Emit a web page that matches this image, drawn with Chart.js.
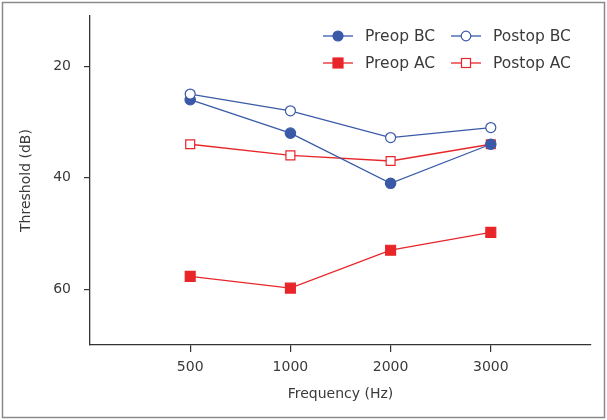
<!DOCTYPE html>
<html>
<head>
<meta charset="utf-8">
<script src="https://cdn.jsdelivr.net/npm/chart.js@4/dist/chart.umd.min.js"></script>
<style>
  html, body { margin: 0; padding: 0; background: #fff; }
  #wrap { width: 607px; height: 420px; position: relative; }
</style>
</head>
<body>
<div id="wrap"><canvas id="c" width="607" height="420"></canvas></div>
<script>
const freqLabels = ['500', '1000', '2000', '3000'];
const preopBC  = [26, 32, 41, 34];
const postopBC = [25, 28, 32.8, 31];
const preopAC  = [57.7, 59.8, 53, 49.8];
const postopAC = [34, 36, 37, 34];
const yTicks = [20, 40, 60];

const BLUE = '#3a5aa8';
const RED = '#e8262a';
const TXT = '#3a3a3a';
const FONT = "'DejaVu Sans', sans-serif";

function pts(arr) { return arr.map((v, i) => ({ x: i, y: v })); }

const legendItems = [
  { label: 'Preop BC', color: BLUE, style: 'circle', fill: true, x: 323, y: 36 },
  { label: 'Postop BC', color: BLUE, style: 'circle', fill: false, x: 451, y: 36 },
  { label: 'Preop AC', color: RED, style: 'rect', fill: true, x: 323, y: 63 },
  { label: 'Postop AC', color: RED, style: 'rect', fill: false, x: 451, y: 63 }
];

const customLegend = {
  id: 'customLegend',
  afterDraw(chart) {
    const ctx = chart.ctx;
    ctx.save();
    legendItems.forEach(it => {
      ctx.strokeStyle = it.color;
      ctx.lineWidth = 1.3;
      ctx.beginPath();
      ctx.moveTo(it.x, it.y);
      ctx.lineTo(it.x + 30, it.y);
      ctx.stroke();
      const cx = it.x + 15;
      ctx.fillStyle = it.fill ? it.color : '#fff';
      ctx.lineWidth = 1.2;
      if (it.style === 'circle') {
        ctx.beginPath();
        ctx.arc(cx, it.y, it.fill ? 5 : 4.8, 0, Math.PI * 2);
        ctx.fill();
        ctx.stroke();
      } else {
        const s = it.fill ? 10 : 9;
        ctx.fillRect(cx - s / 2, it.y - s / 2, s, s);
        ctx.strokeRect(cx - s / 2, it.y - s / 2, s, s);
      }
      ctx.fillStyle = TXT;
      ctx.font = "15.5px " + FONT;
      ctx.textBaseline = 'middle';
      ctx.textAlign = 'left';
      ctx.fillText(it.label, it.x + 42, it.y + 1);
    });
    ctx.restore();
  }
};

const frame = {
  id: 'frame',
  beforeDraw(chart) {
    const ctx = chart.ctx;
    ctx.save();
    ctx.fillStyle = '#fff';
    ctx.fillRect(0, 0, chart.width, chart.height);
    ctx.strokeStyle = '#8a8a8a';
    ctx.lineWidth = 1.5;
    ctx.strokeRect(2.5, 2.5, chart.width - 5, chart.height - 5);
    ctx.restore();
  }
};

const ds = (label, data, color, style, filled) => ({
  label,
  data: pts(data),
  borderColor: color,
  borderWidth: 1.3,
  backgroundColor: filled ? color : '#ffffff',
  pointBackgroundColor: filled ? color : '#ffffff',
  pointBorderColor: color,
  pointBorderWidth: 1.2,
  pointStyle: style,
  pointRadius: style === 'rect' ? (filled ? 7 : 6.3) : (filled ? 5.2 : 5),
  tension: 0,
  fill: false
});

new Chart(document.getElementById('c'), {
  type: 'line',
  data: {
    datasets: [
      ds('Postop BC', postopBC, BLUE, 'circle', false),
      ds('Preop BC', preopBC, BLUE, 'circle', true),
      ds('Postop AC', postopAC, RED, 'rect', false),
      ds('Preop AC', preopAC, RED, 'rect', true)
    ]
  },
  options: {
    responsive: false,
    animation: false,
    devicePixelRatio: 1,
    layout: { padding: { top: 16, right: 16, left: 0, bottom: 0 } },
    plugins: {
      legend: { display: false },
      tooltip: { enabled: false }
    },
    scales: {
      x: {
        type: 'linear',
        min: -1,
        max: 4,
        afterBuildTicks(scale) { scale.ticks = freqLabels.map((_, i) => ({ value: i })); },
        afterFit(scale) { scale.height = 75; scale.paddingLeft = 0; scale.paddingRight = 0; },
        ticks: {
          callback: (v) => freqLabels[v] ?? '',
          color: TXT,
          font: { family: FONT, size: 14 },
          padding: 7,
          maxRotation: 0,
          autoSkip: false
        },
        grid: { display: true, drawOnChartArea: false, drawTicks: true, tickLength: 7, color: '#333', lineWidth: 1.2 },
        border: { display: true, color: '#333', width: 1.3 },
        title: { display: true, text: 'Frequency (Hz)', color: TXT, font: { family: FONT, size: 14 }, padding: { top: 4, bottom: 17 } }
      },
      y: {
        type: 'linear',
        reverse: true,
        min: 11,
        max: 70,
        afterBuildTicks(scale) { scale.ticks = yTicks.map(v => ({ value: v })); },
        afterFit(scale) { scale.width = 90; scale.paddingTop = 0; scale.paddingBottom = 0; },
        ticks: {
          color: TXT,
          font: { family: FONT, size: 14 },
          padding: 13
        },
        grid: { display: true, drawOnChartArea: false, drawTicks: true, tickLength: 6, color: '#333', lineWidth: 1.2 },
        border: { display: true, color: '#333', width: 1.3 },
        title: { display: true, text: 'Threshold (dB)', color: TXT, font: { family: FONT, size: 14 }, padding: { top: 18, bottom: 4 } }
      }
    }
  },
  plugins: [frame, customLegend]
});
</script>
</body>
</html>
